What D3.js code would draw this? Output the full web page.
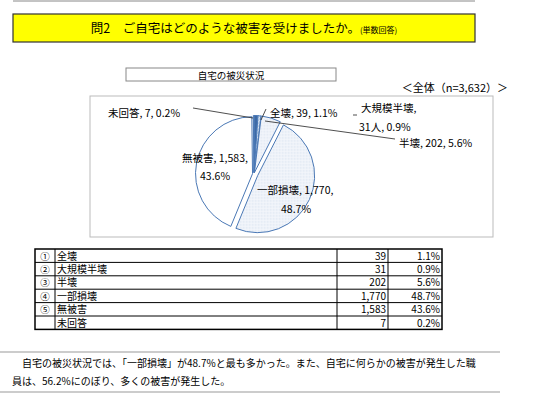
<!DOCTYPE html><html><head><meta charset="utf-8"><script src="https://cdn.jsdelivr.net/npm/d3@7"></script>
<style>body{margin:0;background:#fff}text{font-family:"Noto Sans CJK JP","DejaVu Sans",sans-serif}</style></head><body>
<svg id="s" width="543" height="413"></svg>
<script>
const categories=["全壊","大規模半壊","半壊","一部損壊","無被害","未回答"];
const nums=["①","②","③","④","⑤",""];
const counts=[39,31,202,1770,1583,7];
const pcts=["1.1%","0.9%","5.6%","48.7%","43.6%","0.2%"];
const countLabels=["39","31","202","1,770","1,583","7"];
const svg=d3.select("#s");
const defs=svg.append("defs");
const h=defs.append("pattern").attr("id","hatch").attr("width",3).attr("height",3).attr("patternUnits","userSpaceOnUse");
h.append("rect").attr("width",3).attr("height",3).attr("fill","#dde8f5");
h.append("path").attr("d","M0,3L3,0").attr("stroke","#7fa3cf").attr("stroke-width",0.8);
const dt=defs.append("pattern").attr("id","dots").attr("width",3).attr("height",3).attr("patternUnits","userSpaceOnUse");
dt.append("rect").attr("width",3).attr("height",3).attr("fill","#f3f6fb");
dt.append("circle").attr("cx",1).attr("cy",1).attr("r",0.6).attr("fill","#b9cbe3");
const fills=["#3d6aa6","url(#hatch)","url(#dots)","url(#dots)","#fff","#fff"];
svg.append("line").attr("x1",13).attr("x2",475).attr("y1",1).attr("y2",1).attr("stroke","#888");
svg.append("rect").attr("x",13).attr("y",14).attr("width",462).attr("height",28).attr("fill","#ffff00").attr("stroke","#333").attr("stroke-width",1.2);
const t=svg.append("text").attr("x",244).attr("y",33).attr("text-anchor","middle").attr("font-size",12.5);
t.append("tspan").text("問2　ご自宅はどのような被害を受けましたか。");
t.append("tspan").attr("font-size",8).text("(単数回答)");
svg.append("rect").attr("x",126).attr("y",68).attr("width",210).attr("height",13).attr("fill","#fff").attr("stroke","#888");
svg.append("text").attr("x",231).attr("y",78.5).attr("text-anchor","middle").attr("font-size",9.5).text("自宅の被災状況");
svg.append("text").attr("x",508).attr("y",92).attr("text-anchor","end").attr("font-size",11).text("＜全体（n=3,632）＞");
svg.append("rect").attr("x",90).attr("y",96).attr("width",403).attr("height",141).attr("fill","none").attr("stroke","#bbb");
const cx=254,cy=174,r=57;
const arcs=d3.pie().sort(null)(counts);
const arc=d3.arc().innerRadius(0).outerRadius(r);
const g=svg.append("g").attr("transform",`translate(${cx},${cy})`);
g.selectAll("path").data(arcs).join("path").attr("d",arc)
 .attr("transform",d=>{const a=(d.startAngle+d.endAngle)/2,o=d.index==3?4:1.5;return `translate(${Math.sin(a)*o},${-Math.cos(a)*o})`;})
 .attr("fill",(d,i)=>fills[i]).attr("stroke","#4a78b5").attr("stroke-width",1);
const ln=(x1,y1,x2,y2)=>svg.append("line").attr("x1",x1).attr("y1",y1).attr("x2",x2).attr("y2",y2).attr("stroke","#222").attr("stroke-width",0.8);
ln(193,108,253,118);ln(265,121,395,139);ln(261,120,266,109);ln(353,115,357,115);
const lab=(x,y,s)=>svg.append("text").attr("x",x).attr("y",y).attr("font-size",10.5).text(s);
lab(108,117,"未回答, 7, 0.2%");lab(270,117,"全壊, 39, 1.1%");lab(361,112,"大規模半壊,");lab(359,131,"31人, 0.9%");
lab(399,147,"半壊, 202, 5.6%");lab(182,162,"無被害, 1,583,");lab(200,180,"43.6%");lab(257,194,"一部損壊, 1,770,");lab(281,213,"48.7%");
const ty0=249,rh=13.4,cols=[35,55,337,388,442];
const tb=svg.append("g");
tb.append("rect").attr("x",35).attr("y",ty0).attr("width",407).attr("height",rh*6).attr("fill","none").attr("stroke","#000").attr("stroke-width",1.5);
for(let i=1;i<6;i++)tb.append("line").attr("x1",35).attr("x2",442).attr("y1",ty0+rh*i).attr("y2",ty0+rh*i).attr("stroke","#000");
cols.slice(1,4).forEach(x=>tb.append("line").attr("x1",x).attr("x2",x).attr("y1",ty0).attr("y2",ty0+rh*6).attr("stroke","#000"));
categories.forEach((c,i)=>{const y=ty0+rh*i+10.5;
 tb.append("text").attr("x",45).attr("y",y).attr("text-anchor","middle").attr("font-size",9.5).text(nums[i]);
 tb.append("text").attr("x",57).attr("y",y).attr("font-size",10).text(c);
 tb.append("text").attr("x",386).attr("y",y).attr("text-anchor","end").attr("font-size",10).text(countLabels[i]);
 tb.append("text").attr("x",440).attr("y",y).attr("text-anchor","end").attr("font-size",10).text(pcts[i]);});
svg.append("line").attr("x1",0).attr("x2",500).attr("y1",352).attr("y2",352).attr("stroke","#999");
svg.append("line").attr("x1",0).attr("x2",500).attr("y1",392).attr("y2",392).attr("stroke","#999");
svg.append("text").attr("x",22).attr("y",367).attr("font-size",10).text("自宅の被災状況では、「一部損壊」が48.7%と最も多かった。また、自宅に何らかの被害が発生した職");
svg.append("text").attr("x",12).attr("y",385).attr("font-size",10).text("員は、56.2%にのぼり、多くの被害が発生した。");
</script></body></html>
